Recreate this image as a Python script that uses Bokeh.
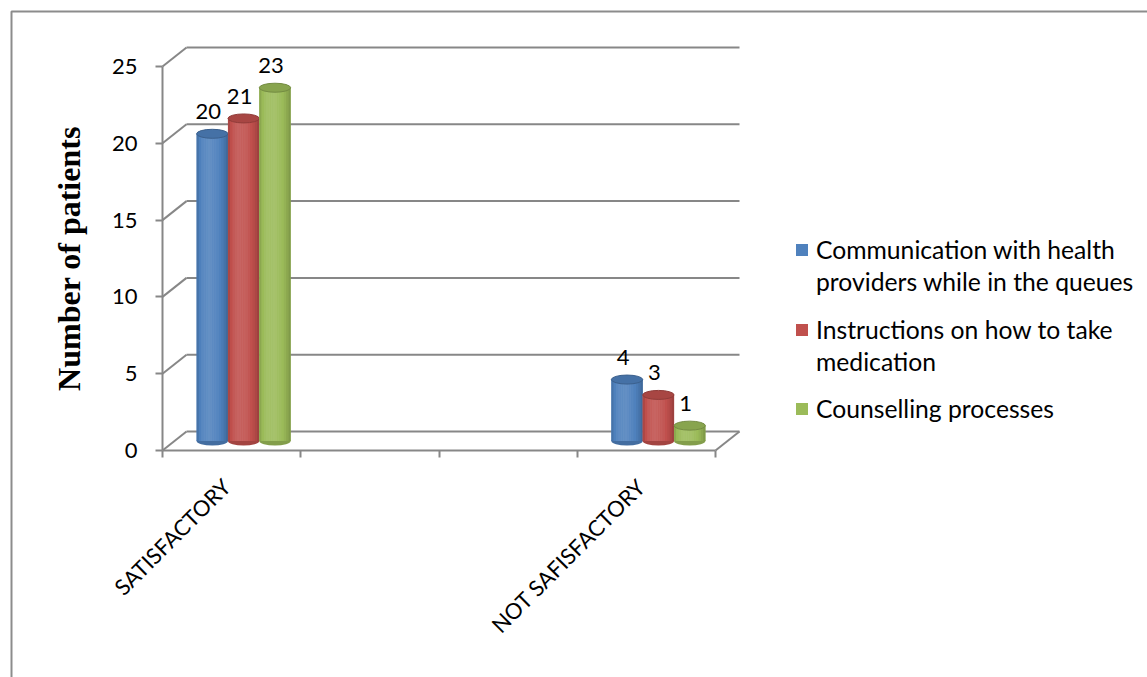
import math
from bokeh.plotting import figure
from bokeh.models import (Range1d, FixedTicker, LinearAxis, ColumnDataSource,
                          Legend, LegendItem)
from bokeh.embed import file_html
from bokeh.resources import INLINE
from bokeh.core.properties import value

# ---------------- data ----------------
categories = ["SATISFACTORY", "", "", "NOT SAFISFACTORY"]
series_lines = [["Communication with health", "providers while in the queues"],
                ["Instructions on how to take", "medication"],
                ["Counselling processes"]]
communication = [20, None, None, 4]
instructions = [21, None, None, 3]
counselling = [23, None, None, 1]
y_ticks = [0, 5, 10, 15, 20, 25]
colors = ["#4F81BD", "#C0504D", "#9BBB59"]
series_values = [communication, instructions, counselling]

# ---------------- layout (pixels) ----------------
W, H = 1147, 677
AX_X = 162                   # screen x of front value axis
Y0 = 450                     # screen y of value 0 (front)
PX_X, PX_Y = 138.25, 15.36   # px per category slot / per unit
GRID = "#878787"
FONT = "Lato"

def dx(px):   # screen x -> data x
    return (px - AX_X) / PX_X

def dy(py):   # screen y -> data y
    return (Y0 - py) / PX_Y

DX, DY = 24 / PX_X, 19 / PX_Y        # 3-D depth offset

p = figure(width=W, height=H, x_range=Range1d(dx(0), dx(W)), y_range=Range1d(dy(H), dy(0)),
           output_backend="svg", toolbar_location=None,
           x_axis_type=None, y_axis_type=None,
           min_border_left=0, min_border_right=0, min_border_top=0, min_border_bottom=0)
p.outline_line_color = None
p.background_fill_color = "white"
p.border_fill_color = "white"

n_slots = len(categories)

# ---- chart border ----
p.line(x=[dx(11), dx(11), dx(W + 5)], y=[dy(H + 5), dy(11), dy(11)],
       line_color="#8c8c8c", line_width=2)

# ---- walls / floor ----
p.segment(x0=[DX] * len(y_ticks), y0=[t + DY for t in y_ticks],
          x1=[n_slots + DX] * len(y_ticks), y1=[t + DY for t in y_ticks],
          line_color=GRID, line_width=2)
p.segment(x0=[0] * len(y_ticks), y0=y_ticks,
          x1=[DX] * len(y_ticks), y1=[t + DY for t in y_ticks],
          line_color=GRID, line_width=2)
p.segment(x0=[n_slots], y0=[0], x1=[n_slots + DX], y1=[DY], line_color=GRID, line_width=2)

# ---- cylinders ----
def shade(hexc, f):
    r, g, b = int(hexc[1:3], 16), int(hexc[3:5], 16), int(hexc[5:7], 16)
    if f <= 1:
        r, g, b = r * f, g * f, b * f
    else:
        k = f - 1
        r, g, b = r + (255 - r) * k, g + (255 - g) * k, b + (255 - b) * k
    return "#%02x%02x%02x" % (int(min(255, r)), int(min(255, g)), int(min(255, b)))

GW = 0.68
BW = GW / 3
EH = 9 / PX_Y
NSTRIP = 14
bodies = []
for k, (vals, col) in enumerate(zip(series_values, colors)):
    xs, tops = [], []
    for i, v in enumerate(vals):
        if v is None:
            continue
        xs.append(i + 0.5 + DX / 2 + (k - 1) * BW)
        tops.append(v + DY / 2)
    base = [DY / 2] * len(xs)
    p.ellipse(x=xs, y=base, width=BW, height=EH, fill_color=shade(col, 0.85), line_color=None)
    body = p.vbar(x=xs, bottom=base, top=tops, width=BW, fill_color=col, line_color=None)
    bodies.append(body)
    sl, sr, sb, st, sc = [], [], [], [], []
    for x, t in zip(xs, tops):
        for j in range(NSTRIP):
            u = ((j + 0.5) / NSTRIP) ** 0.75
            f = 0.76 + 0.36 * math.sin(math.pi * u) ** 0.7
            sl.append(x - BW / 2 + j * BW / NSTRIP)
            sr.append(x - BW / 2 + (j + 1) * BW / NSTRIP + 0.0005)
            sb.append(DY / 2)
            st.append(t)
            sc.append(shade(col, f))
    p.quad(left=sl, right=sr, bottom=sb, top=st, fill_color=sc, line_color=None)
    p.ellipse(x=xs, y=tops, width=BW, height=EH, fill_color=shade(col, 0.88),
              line_color=shade(col, 0.75), line_width=1)
    p.text(x=xs, y=tops, text=[str(v) for v in vals if v is not None],
           text_align="center", text_baseline="alphabetic", x_offset=-4, y_offset=-22,
           text_font=value(FONT), text_font_size="22px", text_color="black")

# ---- axes ----
yaxis = LinearAxis(ticker=FixedTicker(ticks=y_ticks), bounds=(0, 25), fixed_location=0,
                   axis_line_color=GRID, axis_line_width=2,
                   major_tick_out=7, major_tick_in=0, major_tick_line_color=GRID, major_tick_line_width=2,
                   minor_tick_line_color=None,
                   major_label_text_font=FONT, major_label_text_font_size="22px",
                   major_label_text_color="black", major_label_standoff=18,
                   axis_label="Number of patients", axis_label_text_font="Liberation Serif",
                   axis_label_text_font_style="bold", axis_label_text_font_size="32px",
                   axis_label_text_color="black", axis_label_standoff=22)
p.add_layout(yaxis, "left")

label_ticks = [0.4625, 3.4625]
xaxis = LinearAxis(ticker=FixedTicker(ticks=label_ticks, minor_ticks=list(range(n_slots + 1))),
                   fixed_location=0, bounds=(0, n_slots),
                   axis_line_color=GRID, axis_line_width=2,
                   major_tick_line_color=None, major_tick_out=0, major_tick_in=0,
                   minor_tick_out=7, minor_tick_in=0, minor_tick_line_color=GRID, minor_tick_line_width=2,
                   major_label_overrides={label_ticks[0]: categories[0], label_ticks[1]: categories[3]},
                   major_label_orientation=math.pi / 4,
                   major_label_text_font=FONT, major_label_text_font_size="22px",
                   major_label_text_color="black", major_label_standoff=25)
p.add_layout(xaxis, "below")

# ---- legend (one small legend per series so lines can be spaced like the original) ----
LFS = 24.7
LH = 1.2 * LFS
line_centers = [[248.5, 281.5], [328.5, 361.5], [408.5]]
for lines, col, body, centers in zip(series_lines, colors, bodies, line_centers):
    items = [LegendItem(label=lines[0], renderers=[body])]
    for extra in lines[1:]:
        ghost = p.vbar(x=[], top=[], width=0.1, fill_alpha=0, line_alpha=0)
        items.append(LegendItem(label=extra, renderers=[ghost]))
    lg = Legend(items=items, location=(794, H - (centers[-1] + LH / 2)), orientation="vertical",
                glyph_width=15, glyph_height=15, label_standoff=7, spacing=round(33 - LH),
                label_height=15, padding=0, margin=0, border_line_color=None, background_fill_alpha=0,
                label_text_font=FONT, label_text_font_size=f"{LFS}px", label_text_color="black")
    p.add_layout(lg)

open("out.html", "w").write(file_html(p, INLINE))
